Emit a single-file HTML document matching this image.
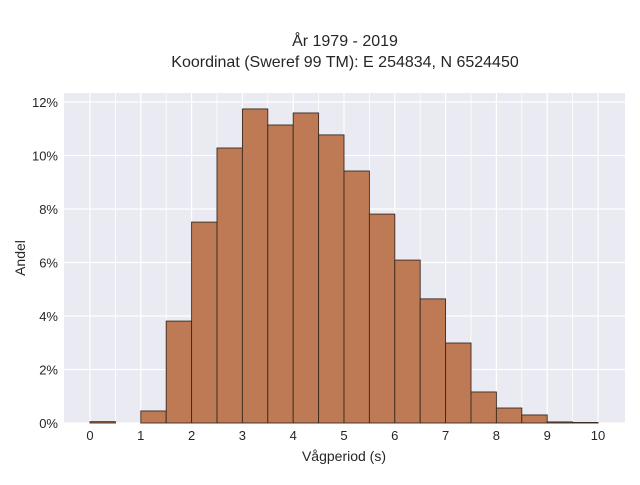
<!DOCTYPE html>
<html><head><meta charset="utf-8"><style>
body{margin:0;background:#fff;font-family:"Liberation Sans",sans-serif}
svg text{font-family:"Liberation Sans",sans-serif;fill:#262626}
</style></head><body>
<svg id="chart" width="640" height="480" xmlns="http://www.w3.org/2000/svg">
<text x="345" y="46" text-anchor="middle" font-size="16">År 1979 - 2019</text>
<text x="345" y="67" text-anchor="middle" font-size="16">Koordinat (Sweref 99 TM): E 254834, N 6524450</text>
<rect x="64" y="93" width="561" height="330" fill="#eaeaf2"/>
<g id="grid"></g><g id="bars"></g><g id="axes"></g>
<text x="344" y="461" text-anchor="middle" font-size="14">Vågperiod (s)</text>
<text transform="translate(25,258) rotate(-90)" text-anchor="middle" font-size="14">Andel</text>
</svg>
<script>
const binStarts=[0,0.5,1,1.5,2,2.5,3,3.5,4,4.5,5,5.5,6,6.5,7,7.5,8,8.5,9,9.5];
const shares=[0.05,0,0.45,3.81,7.51,10.28,11.74,11.14,11.59,10.77,9.42,7.81,6.09,4.64,2.99,1.16,0.56,0.30,0.04,0.02];
const xTicks=[0,1,2,3,4,5,6,7,8,9,10];
const yTicks=[0,2,4,6,8,10,12];
const binWidth=0.5;
const NS="http://www.w3.org/2000/svg";
const X=v=>90+v*50.8, Y=v=>423-v*26.75;
const grid=document.getElementById('grid'),bars=document.getElementById('bars'),axes=document.getElementById('axes');
function mk(tag,attrs,parent){const e=document.createElementNS(NS,tag);for(const k in attrs)e.setAttribute(k,attrs[k]);parent.appendChild(e);return e;}
for(let v=0;v<=10;v+=0.5){const l=mk('line',{x1:X(v),x2:X(v),y1:93,y2:423,stroke:'#fff','stroke-width':v%1?0.8:1.2},grid);

}
yTicks.forEach(t=>{const l=mk('line',{x1:64,x2:625,y1:Y(t),y2:Y(t),stroke:'#fff','stroke-width':1.2},grid);


const tx=mk('text',{x:58,y:Y(t)+5,'text-anchor':'end','font-size':13},axes);tx.textContent=t+'%';

});
xTicks.forEach(t=>{const tx=mk('text',{x:X(t),y:440,'text-anchor':'middle','font-size':13},axes);tx.textContent=t;

});
binStarts.forEach((s,i)=>{if(shares[i]<=0)return;const r=mk('rect',{x:X(s),y:Y(shares[i]),width:X(s+binWidth)-X(s),height:Y(0)-Y(shares[i]),fill:'#bd7a54',stroke:'#3a2a20','stroke-width':0.9},bars);

});
</script>
</body></html>
